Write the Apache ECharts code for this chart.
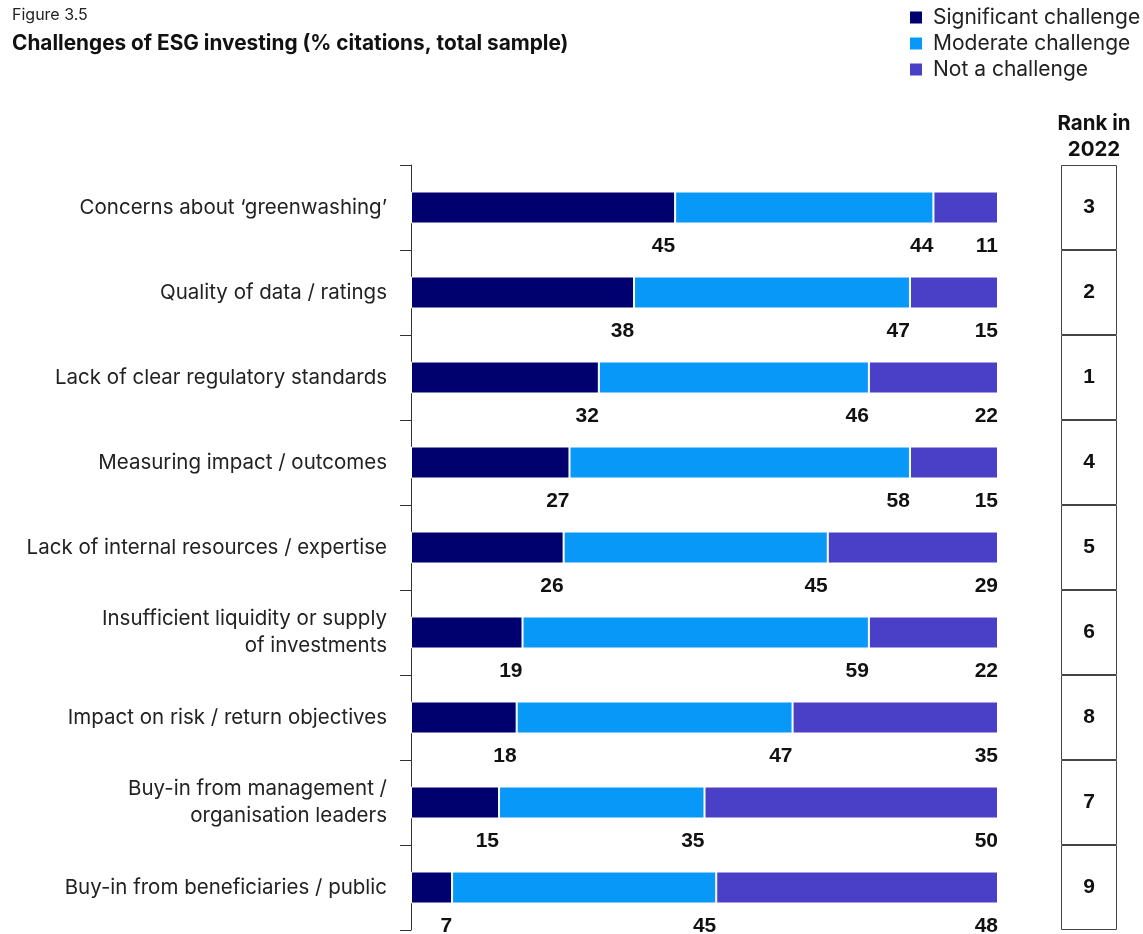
<!DOCTYPE html>
<html><head><meta charset="utf-8">
<script src="https://cdn.jsdelivr.net/npm/echarts@6/dist/echarts.min.js"></script>
<style>html,body{margin:0;padding:0;background:#fff}#c{width:1143px;height:934px}</style>
</head><body><div id="c"></div>
<script>
const categories = [
  "Concerns about \u2018greenwashing\u2019",
  "Quality of data / ratings",
  "Lack of clear regulatory standards",
  "Measuring impact / outcomes",
  "Lack of internal resources / expertise",
  "Insufficient liquidity or supply\nof investments",
  "Impact on risk / return objectives",
  "Buy-in from management /\norganisation leaders",
  "Buy-in from beneficiaries / public"
];
const significant = [45, 38, 32, 27, 26, 19, 18, 15, 7];
const moderate    = [44, 47, 46, 58, 45, 59, 47, 35, 45];
const notChallenge= [11, 15, 22, 15, 29, 22, 35, 50, 48];
const rank2022    = [3, 2, 1, 4, 5, 6, 8, 7, 9];
const seriesNames = ["Significant challenge", "Moderate challenge", "Not a challenge"];
const colors = ["#00006e", "#0798f8", "#4a40c8"];

const chart = echarts.init(document.getElementById('c'));
const valLabel = {
  show: true,
  position: ['100%', '100%'],
  align: 'right',
  verticalAlign: 'middle',
  offset: [0, 23],
  fontFamily: 'Liberation Sans',
  fontWeight: 'bold',
  fontSize: 21,
  color: '#111'
};
function mkSeries(i, data) {
  return {
    name: seriesNames[i], type: 'bar', stack: 'total',
    xAxisIndex: 0, yAxisIndex: 0,
    barWidth: 32,
    data: data,
    itemStyle: { color: colors[i], borderColor: '#fff', borderWidth: 1 },
    label: valLabel,
    emphasis: { disabled: true }
  };
}
chart.setOption({
  animation: false,
  textStyle: { fontFamily: 'Inter' },
  title: [
    { text: 'Figure 3.5', left: 7, top: 2, textStyle: { fontFamily: 'Inter', fontSize: 16, fontWeight: 'normal', color: '#222' } },
    { text: 'Challenges of ESG investing (% citations, total sample)', left: 7, top: 28, textStyle: { fontFamily: 'Inter', fontSize: 20.8, fontWeight: 'bold', color: '#111' } },
    { text: 'Rank in\n2022', left: 1089, top: 106, textAlign: 'center', textStyle: { fontFamily: 'Inter', fontSize: 20.5, fontWeight: 'bold', color: '#111', lineHeight: 26 } }
  ],
  legend: {
    orient: 'vertical', left: 903, top: 2,
    itemWidth: 14, itemHeight: 14, itemGap: 5,
    icon: 'rect',
    data: seriesNames,
    textStyle: { fontFamily: 'Inter', fontSize: 21, color: '#222', lineHeight: 21, padding: [0,0,0,5] }
  },
  grid: [
    { left: 411, right: 145, top: 165, height: 765 },
    { left: 1061, width: 56, top: 165, height: 765 }
  ],
  xAxis: [
    { gridIndex: 0, type: 'value', min: 0, max: 100, show: false },
    { gridIndex: 1, type: 'value', min: 0, max: 1, show: false }
  ],
  yAxis: [
    { gridIndex: 0, type: 'category', inverse: true, data: categories,
      axisLine: { show: true, lineStyle: { color: '#333', width: 1 } },
      axisTick: { show: true, length: 11, lineStyle: { color: '#333' } },
      axisLabel: { margin: 24, fontFamily: 'Inter', fontSize: 20.5, color: '#222', lineHeight: 27, align: 'right' }
    },
    { gridIndex: 1, type: 'category', inverse: true, data: categories, show: false }
  ],
  series: [
    mkSeries(0, significant),
    mkSeries(1, moderate),
    mkSeries(2, notChallenge),
    {
      type: 'bar', xAxisIndex: 1, yAxisIndex: 1,
      barWidth: '100%',
      data: rank2022.map(r => ({ value: 1, rank: r })),
      itemStyle: { color: '#fff', borderColor: '#444', borderWidth: 1 },
      label: { show: true, position: 'inside', formatter: p => rank2022[p.dataIndex],
        fontFamily: 'Liberation Sans', fontWeight: 'bold', fontSize: 21, color: '#111' },
      emphasis: { disabled: true },
      silent: true
    }
  ]
});
</script></body></html>
